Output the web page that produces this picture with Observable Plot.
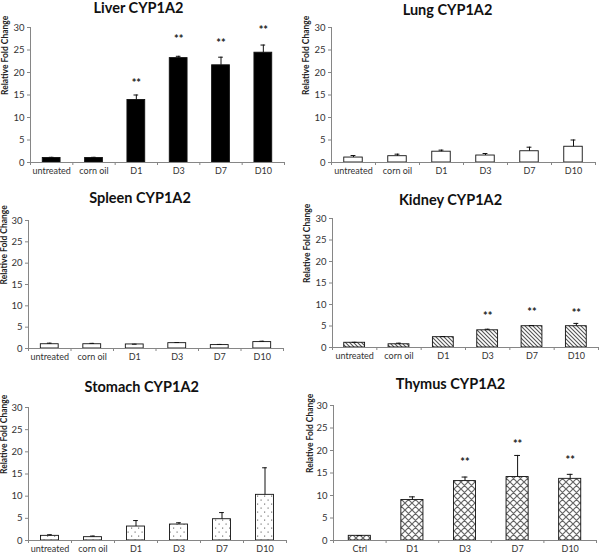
<!DOCTYPE html>
<html><head><meta charset="utf-8">
<script src="https://cdn.jsdelivr.net/npm/d3@7"></script>
<script src="https://cdn.jsdelivr.net/npm/@observablehq/plot@0.6"></script>
<style>
body{margin:0;background:#fff;}
#root{position:relative;width:600px;height:555px;overflow:hidden;font-family:Lato,sans-serif;}
#root svg{position:absolute;overflow:visible;}
</style></head><body><div id="root"></div>
<script>
// ---------- data ----------
const yTicks = [0, 5, 10, 15, 20, 25, 30];
const catsStd = ["untreated", "corn oil", "D1", "D3", "D7", "D10"];
const catsThymus = ["Ctrl", "D1", "D3", "D7", "D10"];
const yLabel = "Relative Fold Change";

const liverTitle = "Liver CYP1A2";
const liverMean = [1.0, 1.0, 13.9, 23.2, 21.6, 24.4];
const liverErr = [0.15, 0.15, 1.1, 0.4, 1.8, 1.7];
const liverStars = [null, null, 18.1, 27.8, 27.0, 30.0];

const lungTitle = "Lung CYP1A2";
const lungMean = [1.1, 1.4, 2.4, 1.55, 2.5, 3.5];
const lungErr = [0.45, 0.45, 0.35, 0.45, 0.9, 1.5];
const lungStars = [null, null, null, null, null, null];

const spleenTitle = "Spleen CYP1A2";
const spleenMean = [1.0, 1.0, 0.95, 1.25, 0.8, 1.5];
const spleenErr = [0.25, 0.2, 0.05, 0.15, 0.15, 0.2];
const spleenStars = [null, null, null, null, null, null];

const kidneyTitle = "Kidney CYP1A2";
const kidneyMean = [1.1, 0.75, 2.4, 4.0, 4.95, 4.95];
const kidneyErr = [0.1, 0.25, 0.15, 0.25, 0.15, 0.65];
const kidneyStars = [null, null, null, 7.9, 8.7, 8.45];

const stomachTitle = "Stomach CYP1A2";
const stomachMean = [1.05, 0.75, 3.15, 3.6, 4.8, 10.3];
const stomachErr = [0.25, 0.25, 1.35, 0.4, 1.5, 6.1];
const stomachStars = [null, null, null, null, null, null];

const thymusTitle = "Thymus CYP1A2";
const thymusMean = [1.04, 9.0, 13.2, 14.1, 13.7];
const thymusErr = [0.05, 0.7, 0.9, 4.8, 1.0];
const thymusStars = [null, null, 17.8, 22.0, 18.3];

// ---------- layout / style ----------
const panels = [
  {id:"liver", title:liverTitle, cats:catsStd, mean:liverMean, err:liverErr, stars:liverStars,
   left:0, top:0, mL:30, mR:16, mT:27, mB:23, labelX:4.5, barFrac:0.42, fill:"#000", tx:138.5, ty:12.5},
  {id:"lung", title:lungTitle, cats:catsStd, mean:lungMean, err:lungErr, stars:lungStars,
   left:300, top:0, mL:31, mR:5, mT:27, mB:23, labelX:5.5, barFrac:0.42, fill:"#fff", tx:447.5, ty:15},
  {id:"spleen", title:spleenTitle, cats:catsStd, mean:spleenMean, err:spleenErr, stars:spleenStars,
   left:0, top:185, mL:28, mR:17, mT:35, mB:22, labelX:4, barFrac:0.42, fill:"#fff", tx:140, ty:203},
  {id:"kidney", title:kidneyTitle, cats:catsStd, mean:kidneyMean, err:kidneyErr, stars:kidneyStars,
   left:300, top:185, mL:32, mR:2, mT:33, mB:23, labelX:6.5, barFrac:0.47, fill:"url(#pat-kidney)", tx:450.5, ty:205},
  {id:"stomach", title:stomachTitle, cats:catsStd, mean:stomachMean, err:stomachErr, stars:stomachStars,
   left:0, top:370, mL:28, mR:14, mT:37, mB:15, labelX:4, barFrac:0.42, fill:"url(#pat-stomach)", tx:141.7, ty:392},
  {id:"thymus", title:thymusTitle, cats:catsThymus, mean:thymusMean, err:thymusErr, stars:thymusStars,
   left:300, top:370, mL:33, mR:4, mT:35, mB:15, labelX:9.5, barFrac:0.42, fill:"url(#pat-thymus)", tx:450.5, ty:389}
];

const AXIS = "#868686", TXT = "#333", BAR = "#111";
const root = document.getElementById("root");

function addPatterns(svg, id) {
  const defs = d3.select(svg).append("defs");
  if (id === "kidney") {
    const p = defs.append("pattern").attr("id","pat-kidney").attr("patternUnits","userSpaceOnUse")
      .attr("width",4).attr("height",4);
    p.append("rect").attr("width",4).attr("height",4).attr("fill","#fff");
    p.append("path").attr("d","M-1,-1L5,5M-1,3L1,5M3,-1L5,1").attr("stroke","#555").attr("stroke-width",1.1);
  } else if (id === "stomach") {
    const p = defs.append("pattern").attr("id","pat-stomach").attr("patternUnits","userSpaceOnUse")
      .attr("width",7).attr("height",8);
    p.append("rect").attr("width",7).attr("height",8).attr("fill","#fff");
    p.append("rect").attr("x",1.5).attr("y",1.5).attr("width",1.2).attr("height",1.2).attr("fill","#777");
    p.append("rect").attr("x",5).attr("y",5.5).attr("width",1.2).attr("height",1.2).attr("fill","#777");
  } else if (id === "thymus") {
    const p = defs.append("pattern").attr("id","pat-thymus").attr("patternUnits","userSpaceOnUse")
      .attr("width",7).attr("height",7);
    p.append("rect").attr("width",7).attr("height",7).attr("fill","#fff");
    p.append("path").attr("d","M-1,-1L8,8M-1,8L8,-1M-1,6L1,8M6,-1L8,1M-1,1L1,-1M6,8L8,6").attr("stroke","#666").attr("stroke-width",1.2);
  }
}

for (const cfg of panels) {
  const n = cfg.cats.length;
  const rows = cfg.cats.map((c, i) => ({i, c, v: cfg.mean[i], e: cfg.err[i], s: cfg.stars[i]}));
  const half = cfg.barFrac / 2;
  const cap = 0.055;
  const svg = Plot.plot({
    width: 300, height: 185,
    marginLeft: cfg.mL, marginRight: cfg.mR, marginTop: cfg.mT, marginBottom: cfg.mB,
    x: {type: "linear", domain: [0, n], axis: null},
    y: {domain: [0, 30], axis: null},
    style: {fontFamily: "Lato, sans-serif", fontSize: "9px", color: TXT, background: "transparent", overflow: "visible"},
    marks: [
      Plot.rectY(rows, {x1: d => d.i + 0.5 - half, x2: d => d.i + 0.5 + half, y1: 0, y2: "v",
        fill: cfg.fill, stroke: BAR, strokeWidth: 0.9}),
      Plot.ruleX(rows, {x: d => d.i + 0.5, y1: "v", y2: d => d.v + d.e, stroke: BAR, strokeWidth: 1}),
      Plot.ruleY(rows, {x1: d => d.i + 0.5 - cap, x2: d => d.i + 0.5 + cap, y: d => d.v + d.e, stroke: BAR, strokeWidth: 1}),
      Plot.text(rows.filter(d => d.s != null), {x: d => d.i + 0.5, y: "s", text: () => "**",
        fontSize: 11, fontWeight: "bold", fill: "#222", dy: 2.5}),
      Plot.axisY({ticks: yTicks, tickSize: 3, tickPadding: 3, stroke: AXIS, fill: TXT, fontSize: 9.5}),
      Plot.ruleX([0], {stroke: AXIS}),
      Plot.ruleY([0], {stroke: AXIS}),
      Plot.axisX({ticks: d3.range(n + 1), tickSize: 3, tickFormat: () => "", stroke: AXIS}),
      Plot.axisX({ticks: d3.range(n).map(i => i + 0.5), tickSize: 0, tickPadding: 5.5,
        tickFormat: t => cfg.cats[Math.floor(t)], fill: TXT, fontSize: 9}),
      Plot.text([yLabel], {frameAnchor: "left", rotate: -90, dx: cfg.labelX - cfg.mL,
        fontWeight: "bold", fontSize: 8.5, fill: "#222"})
    ]
  });
  addPatterns(svg, cfg.id);
  svg.style.left = cfg.left + "px";
  svg.style.top = cfg.top + "px";
  root.appendChild(svg);
}

// titles overlay
const over = d3.select(root).append("svg").attr("width", 600).attr("height", 555)
  .style("left", "0px").style("top", "0px").style("pointer-events", "none");
over.selectAll("text").data(panels).join("text")
  .attr("x", d => d.tx).attr("y", d => d.ty)
  .attr("text-anchor", "middle")
  .attr("font-family", "Lato, sans-serif").attr("font-weight", "bold").attr("font-size", 14.5)
  .attr("fill", "#111")
  .text(d => d.title);
</script>
</body></html>
